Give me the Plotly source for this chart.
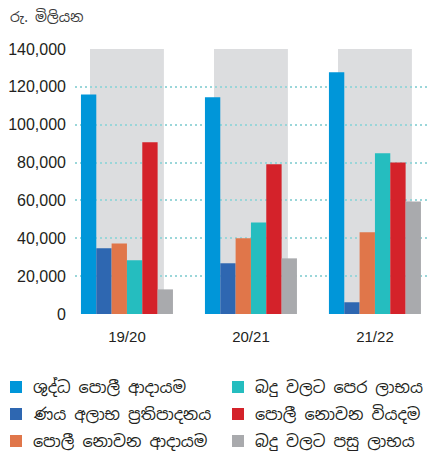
import plotly.graph_objects as go

# Financial years on the category axis
years = ["19/20", "20/21", "21/22"]

# Values in Rs. million for each series
net_interest_income = [116000, 114500, 127700]
loan_loss_provision = [34700, 26800, 6200]
non_interest_income = [37300, 40000, 43200]
profit_before_tax = [28400, 48400, 84900]
non_interest_expense = [90700, 79100, 80100]
profit_after_tax = [13000, 29400, 59500]

series_names = [
    "ශුද්ධ පොලී ආදායම",
    "ණය අලාභ ප්‍රතිපාදනය",
    "පොලී නොවන ආදායම",
    "බදු වලට පෙර ලාභය",
    "පොලී නොවන වියදම",
    "බදු වලට පසු ලාභය",
]
series_values = [
    net_interest_income,
    loan_loss_provision,
    non_interest_income,
    profit_before_tax,
    non_interest_expense,
    profit_after_tax,
]
series_colors = ["#0096d9", "#2e67b1", "#e0764a", "#25bdbf", "#d4222a", "#a9aaad"]

y_ticks = [0, 20000, 40000, 60000, 80000, 100000, 120000, 140000]
y_tick_labels = [f"{v:,}" for v in y_ticks]

SIN_FONT = "Noto Sans Sinhala, Iskoola Pota, Noto Sans, sans-serif"
NUM_FONT = "Liberation Sans, Arial, sans-serif"

W, H = 441, 459
ML, MR, MT, MB = 75, 11, 49, 145
PW, PH = W - ML - MR, H - MT - MB


def px_x(x):
    return (x - ML) / PW


def px_y(y):
    return (H - MB - y) / PH


x_pos = list(range(len(years)))

fig = go.Figure()
for name, vals, col in zip(series_names, series_values, series_colors):
    fig.add_trace(go.Bar(x=x_pos, y=vals, name=name, marker_color=col,
                         marker_line_width=0, showlegend=False))

# Grey panels behind each year group
for xp in x_pos:
    fig.add_shape(type="rect", xref="x", yref="y", x0=xp - 0.298, x1=xp + 0.298,
                  y0=0, y1=y_ticks[-1], fillcolor="#dcdddf", line_width=0,
                  layer="below")

# Legend drawn as two columns of swatches with labels
legend_order = [0, 3, 1, 4, 2, 5]
col_x = [10, 232]
for k, idx in enumerate(legend_order):
    r, c = k // 2, k % 2
    yc = 387 + 27 * r
    x0 = col_x[c]
    fig.add_shape(type="rect", xref="paper", yref="paper",
                  x0=px_x(x0), x1=px_x(x0 + 12),
                  y0=px_y(yc + 6), y1=px_y(yc - 6),
                  fillcolor=series_colors[idx], line_width=0)
    fig.add_annotation(xref="paper", yref="paper",
                       x=px_x(x0 + 21), y=px_y(yc),
                       text=series_names[idx], showarrow=False,
                       xanchor="left", yanchor="middle",
                       font=dict(family=SIN_FONT, size=16, color="#231f20"))

# Unit label
fig.add_annotation(xref="paper", yref="paper", x=px_x(8), y=px_y(17),
                   text="රු. මිලියන", showarrow=False,
                   xanchor="left", yanchor="middle",
                   font=dict(family=SIN_FONT, size=14, color="#3a3a3a"))

fig.update_layout(
    width=W, height=H,
    margin=dict(l=ML, r=MR, t=MT, b=MB),
    paper_bgcolor="white", plot_bgcolor="white",
    barmode="group", bargap=0.258, bargroupgap=0,
    xaxis=dict(range=[-0.419, 2.444], tickmode="array", tickvals=x_pos,
               ticktext=years, showgrid=False, zeroline=False, showline=False,
               ticks="", ticklabelstandoff=12, automargin=False,
               tickfont=dict(family=NUM_FONT, size=15, color="#231f20")),
    yaxis=dict(range=[0, 140000], tickmode="array", tickvals=y_ticks,
               ticktext=y_tick_labels, showgrid=True, gridcolor="#9ad6d9",
               griddash="2px,3px", gridwidth=1.5, zeroline=False,
               showline=False, ticks="", ticklabelstandoff=8, automargin=False,
               tickfont=dict(family=NUM_FONT, size=16, color="#231f20")),
)

fig.write_html("out.html")
